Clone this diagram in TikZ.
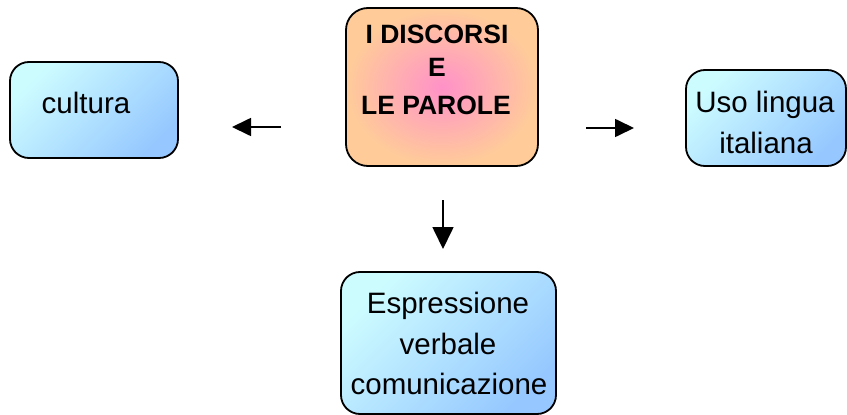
\documentclass[tikz,border=0pt]{standalone}
\usepackage{fontspec}
\setmainfont{Liberation Sans}
\usetikzlibrary{arrows.meta}
\definecolor{cyanlight}{RGB}{205,252,255}
\definecolor{bluedark}{RGB}{150,200,255}
\definecolor{orangebox}{RGB}{255,204,153}
\definecolor{pinkbox}{RGB}{255,145,200}
\tikzset{
  bluebox/.style={draw=black, line width=1.8pt, rounded corners=19pt,
    top color=cyanlight, bottom color=bluedark, shading angle=45},
  centerbox/.style={draw=black, line width=1.8pt, rounded corners=22pt,
    inner color=pinkbox, outer color=orangebox},
  btxt/.style={anchor=base, font=\fontsize{29.5}{29.5}\selectfont, inner sep=0pt},
  ctxt/.style={anchor=base, font=\bfseries\fontsize{26.5}{26.5}\selectfont, inner sep=0pt},
  harrow/.style={line width=1.7pt, -{Triangle[length=19pt,width=18pt]}},
  varrow/.style={line width=1.7pt, -{Triangle[length=22pt,width=21pt]}},
}
\begin{document}
\begin{tikzpicture}[x=1pt,y=-1pt]
\useasboundingbox (0,0) rectangle (847,415);
% boxes
\path[centerbox] (346,8) rectangle (538,166);
\node[inner sep=0pt, minimum width=192pt, minimum height=158pt] (center) at (442,87) {};
\path[bluebox] (10,62) rectangle (178,158);
\node[inner sep=0pt, minimum width=168pt, minimum height=96pt] (cult) at (94,110) {};
\path[bluebox] (686,70) rectangle (846,166);
\node[inner sep=0pt, minimum width=160pt, minimum height=96pt] (uso) at (766,118) {};
\path[bluebox] (341,272) rectangle (556,414);
\node[inner sep=0pt, minimum width=215pt, minimum height=142pt] (espr) at (448.5,343) {};
% texts
\node[ctxt] (c1) at (437,43) {I DISCORSI};
\node[ctxt] (c2) at (437,76) {E};
\node[ctxt] (c3) at (436,114) {LE PAROLE};
\node[btxt] (t1) at (86,113) {cultura};
\node[btxt] (u1) at (765,112) {Uso lingua};
\node[btxt] (u2) at (766,153) {italiana};
\node[btxt] (e1) at (448,313) {Espressione};
\node[btxt] (e2) at (448,354) {verbale};
\node[btxt] (e3) at (449,394) {comunicazione};
% arrows
\coordinate (la1) at (281,127);
\coordinate (la2) at (232,127);
\coordinate (ra1) at (586,128);
\coordinate (ra2) at (634,128);
\coordinate (da1) at (443,200);
\coordinate (da2) at (443,249);
\draw[harrow] (la1) -- (la2);
\draw[harrow] (ra1) -- (ra2);
\draw[varrow] (da1) -- (da2);
\end{tikzpicture}
\end{document}
